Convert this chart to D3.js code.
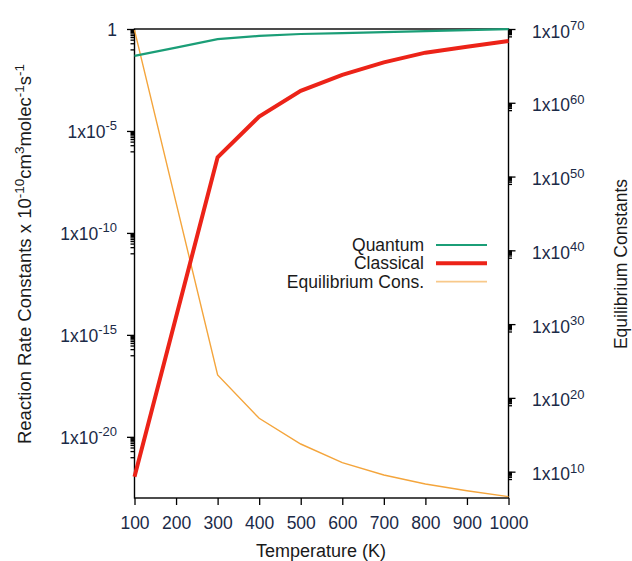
<!DOCTYPE html>
<html>
<head>
<meta charset="utf-8">
<script src="https://cdn.jsdelivr.net/npm/d3@7"></script>
<style>
  html, body { margin: 0; padding: 0; background: #fff; }
  svg { display: block; font-family: "Liberation Sans", Arial, Helvetica, sans-serif; }
</style>
</head>
<body>
<svg id="chart" width="632" height="561"></svg>
<script>
// Temperatures (K) on the x axis
const temperatures = [100, 200, 300, 400, 500, 600, 700, 800, 900, 1000];

// Rate constants (x 1e-10 cm^3 molec^-1 s^-1), left log axis
const quantum   = [0.048, 0.123, 0.32, 0.46, 0.57, 0.63, 0.71, 0.79, 0.89, 0.98];
const classical = [1.1e-22, 7.5e-15, 5.1e-7, 5.1e-5, 9.3e-4, 5.6e-3, 2.3e-2, 6.9e-2, 0.135, 0.26];

// Equilibrium constants, right log axis
const equilibrium = [7e69, 3e46, 1.3e23, 1.7e17, 5.6e13, 1.7e11, 3.5e9, 2.1e8, 2.6e7, 4.1e6];

// Tick values
const xTicks = [100, 200, 300, 400, 500, 600, 700, 800, 900, 1000];
const leftExponents = [0, -5, -10, -15, -20];
const rightExponents = [70, 60, 50, 40, 30, 20, 10];

const legendLabels = ["Quantum", "Classical", "Equilibrium Cons."];

const COLORS = { quantum: "#1b9e77", classical: "#ec2318", equilibrium: "#f4a53c" };
const TICK_TEXT = "#1b2a47";
const TITLE_TEXT = "#1a1a1a";

const svg = d3.select("#chart");
const plot = { left: 134.5, right: 508.5, top: 29, bottom: 498 };

const x = d3.scaleLinear().domain([100, 1000]).range([plot.left, plot.right]);
const yL = d3.scaleLog().domain([1e-23, 1]).range([plot.bottom, plot.top]);
const yR = d3.scaleLog().domain([Math.pow(10, 6.43), 1e70]).range([plot.bottom, plot.top]);

// minor ticks: one decade below each labelled tick, at k/10 steps
function minorValues(exps) {
  const out = [];
  exps.forEach(e => { for (let k = 1; k <= 9; k++) out.push(k * Math.pow(10, e - 1)); });
  return out;
}

function styleAxis(g) {
  g.select(".domain").remove();
  g.selectAll(".tick line").attr("stroke", "#000").attr("stroke-width", 1.3);
}

// x axis
const gx = svg.append("g")
  .attr("transform", `translate(0,${plot.bottom})`)
  .call(d3.axisBottom(x).tickValues(xTicks).tickSize(7).tickSizeOuter(0).tickPadding(12).tickFormat(d3.format("d")));
styleAxis(gx);
gx.selectAll(".tick text").attr("font-size", 17.5).attr("fill", TICK_TEXT)
  .attr("font-family", "Liberation Sans, Arial, sans-serif");

// left axis major + minor
const gl = svg.append("g")
  .attr("transform", `translate(${plot.left},0)`)
  .call(d3.axisLeft(yL).tickValues(leftExponents.map(e => Math.pow(10, e))).tickSize(7.5).tickSizeOuter(0).tickFormat(""));
styleAxis(gl);
const glm = svg.append("g")
  .attr("transform", `translate(${plot.left},0)`)
  .call(d3.axisLeft(yL).tickValues(minorValues(leftExponents).filter(v => v >= 1e-23)).tickSize(4).tickSizeOuter(0).tickFormat(""));
styleAxis(glm);

function expLabel(sel, e, anchor) {
  const t = sel.append("text").attr("fill", TICK_TEXT).attr("text-anchor", anchor)
    .attr("font-size", 17.5);
  if (e === 0) { t.text("1"); return t; }
  t.append("tspan").text("1x10");
  t.append("tspan").attr("font-size", 13).attr("dy", -7.5).text(String(e));
  return t;
}

leftExponents.forEach(e => {
  const g = svg.append("g").attr("transform", `translate(117,${yL(Math.pow(10, e)) + 7})`);
  expLabel(g, e, "end");
});

// right axis major + minor
const gr = svg.append("g")
  .attr("transform", `translate(${plot.right},0)`)
  .call(d3.axisRight(yR).tickValues(rightExponents.map(e => Math.pow(10, e))).tickSize(7).tickSizeOuter(0).tickFormat(""));
styleAxis(gr);
const grm = svg.append("g")
  .attr("transform", `translate(${plot.right},0)`)
  .call(d3.axisRight(yR).tickValues(minorValues(rightExponents).filter(v => v >= yR.domain()[0])).tickSize(3.5).tickSizeOuter(0).tickFormat(""));
styleAxis(grm);

rightExponents.forEach(e => {
  const g = svg.append("g").attr("transform", `translate(532,${yR(Math.pow(10, e)) + 8.5})`);
  expLabel(g, e, "start");
});

// frame
svg.append("rect")
  .attr("x", plot.left).attr("y", plot.top)
  .attr("width", plot.right - plot.left).attr("height", plot.bottom - plot.top)
  .attr("fill", "none").attr("stroke", "#000").attr("stroke-width", 1.4);

// series
const lineL = d3.line().x((d, i) => x(temperatures[i])).y(d => yL(d));
const lineR = d3.line().x((d, i) => x(temperatures[i])).y(d => yR(d));

const plotArea = svg.append("g");
plotArea.append("path").datum(equilibrium).attr("d", lineR)
  .attr("fill", "none").attr("stroke", COLORS.equilibrium).attr("stroke-width", 1.4);
plotArea.append("path").datum(quantum).attr("d", lineL)
  .attr("fill", "none").attr("stroke", COLORS.quantum).attr("stroke-width", 2.2);
plotArea.append("path").datum(classical).attr("d", lineL)
  .attr("fill", "none").attr("stroke", COLORS.classical).attr("stroke-width", 4).attr("stroke-linejoin", "miter");

// legend
const legendColors = [COLORS.quantum, COLORS.classical, COLORS.equilibrium];
const legendWidths = [2.2, 4, 1.6];
legendLabels.forEach((lab, i) => {
  const yy = 245 + i * 18.3;
  svg.append("text").attr("x", 424).attr("y", yy + 6).attr("text-anchor", "end")
    .attr("font-size", 17.5).attr("fill", TITLE_TEXT).text(lab);
  svg.append("line").attr("x1", 436).attr("x2", 487).attr("y1", yy).attr("y2", yy)
    .attr("stroke", legendColors[i]).attr("stroke-width", legendWidths[i])
    .attr("stroke-opacity", i === 2 ? 0.6 : 1);
});

// axis titles
svg.append("text").attr("x", 321).attr("y", 557).attr("text-anchor", "middle")
  .attr("font-size", 18).attr("fill", TITLE_TEXT).text("Temperature (K)");

const lt = svg.append("text").attr("transform", "translate(31,254) rotate(-90)")
  .attr("text-anchor", "middle").attr("font-size", 18.5).attr("fill", TITLE_TEXT);
lt.append("tspan").text("Reaction Rate Constants x 10");
lt.append("tspan").attr("font-size", 13.5).attr("dy", -7.5).text("-10");
lt.append("tspan").attr("dy", 7.5).text("cm");
lt.append("tspan").attr("font-size", 13.5).attr("dy", -7.5).text("3");
lt.append("tspan").attr("dy", 7.5).text("molec");
lt.append("tspan").attr("font-size", 13.5).attr("dy", -7.5).text("-1");
lt.append("tspan").attr("dy", 7.5).text("s");
lt.append("tspan").attr("font-size", 13.5).attr("dy", -7.5).text("-1");

svg.append("text").attr("transform", "translate(627,264) rotate(-90)")
  .attr("text-anchor", "middle").attr("font-size", 17.5).attr("fill", TITLE_TEXT)
  .text("Equilibrium Constants");
</script>
</body>
</html>
